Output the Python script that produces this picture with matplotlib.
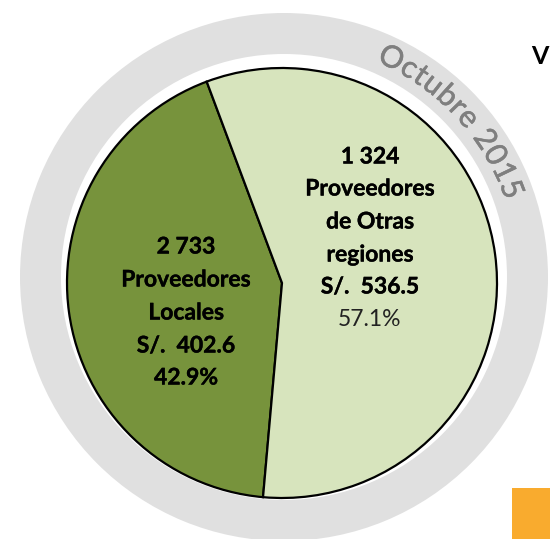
import numpy as np
import matplotlib
matplotlib.use("Agg")
import matplotlib.pyplot as plt
import matplotlib.patheffects as pe
from matplotlib.patches import Wedge, Rectangle

# === DATOS ===
categorias = ["Proveedores\nLocales", "Proveedores\nde Otras\nregiones"]
proveedores = ["2 733", "1 324"]
montos = [402.6, 536.5]
participacion = [42.9, 57.1]
periodo = "Octubre 2015"

# === COLORES ===
COL_LOCAL = "#77933C"
COL_OTRAS = "#D7E4BD"
COL_ANILLO = "#E0E0E0"
COL_PERIODO = "#7F7F7F"
FUENTE = "Lato"

W, H = 550, 539
fig = plt.figure(figsize=(W / 100, H / 100), dpi=100)
ax = fig.add_axes([0, 0, 1, 1])
ax.set_xlim(0, W)
ax.set_ylim(0, H)
ax.set_aspect("equal")
ax.axis("off")


def yy(y_img):
    return H - y_img


# anillo gris
cx_r, cy_r = 284, yy(277)
ax.add_patch(Wedge((cx_r, cy_r), 264, 0, 360, width=41, color=COL_ANILLO, lw=0))

# torta
cx, cy, rad = 282, yy(283), 215
ax.pie(participacion, colors=[COL_LOCAL, COL_OTRAS], startangle=110.5,
       counterclock=True, center=(cx, cy), radius=rad, frame=True,
       wedgeprops=dict(edgecolor="black", linewidth=1.6))
ax.set_xlim(0, W)
ax.set_ylim(0, H)
ax.axis("off")

# etiquetas
fs = 16.5
grueso = [pe.withStroke(linewidth=0.25, foreground="black")]
loc_lines = [proveedores[0]] + categorias[0].split("\n") + [f"S/.  {montos[0]}", f"{participacion[0]}%"]
loc_y = [247, 280, 313, 346, 378]
for txt, y in zip(loc_lines, loc_y):
    ax.text(186, yy(y), txt, ha="center", va="center", fontsize=fs,
            fontweight="bold", family=FUENTE, color="black", path_effects=grueso)

otr_lines = [proveedores[1]] + categorias[1].split("\n") + [f"S/.  {montos[1]}"]
otr_y = [157, 189, 222, 255, 287]
for txt, y in zip(otr_lines, otr_y):
    ax.text(370, yy(y), txt, ha="center", va="center", fontsize=fs,
            fontweight="bold", family=FUENTE, color="black", path_effects=grueso)
ax.text(370, yy(320), f"{participacion[1]}%", ha="center", va="center",
        fontsize=fs, family=FUENTE, color="#222222")

# texto curvo sobre el anillo
fs_arc = 22
fig.canvas.draw()
rend = fig.canvas.get_renderer()


def ancho(s):
    t = ax.text(0, 0, s, fontsize=fs_arc, family=FUENTE)
    w = t.get_window_extent(renderer=rend).width
    t.remove()
    return w


base = ancho("xx")
anchos = [ancho("x" + ch + "x") - base for ch in periodo]
centros = np.cumsum(anchos) - np.array(anchos) / 2
r_mid = 245
th0, th1 = np.radians(26.1), np.radians(68.9)
natural = centros[-1] - centros[0]
extra = ((th1 - th0) * r_mid - natural) / (len(periodo) - 1)
cap = 21
r_base = r_mid - cap / 2
for i, ch in enumerate(periodo):
    s = centros[i] - centros[0] + extra * i
    th = th0 + s / r_mid
    x = cx_r + r_base * np.sin(th)
    y = cy_r + r_base * np.cos(th)
    ax.text(x, y, ch, ha="center", va="baseline", rotation=-np.degrees(th),
            rotation_mode="anchor", fontsize=fs_arc, family=FUENTE,
            color=COL_PERIODO,
            path_effects=[pe.withStroke(linewidth=0.4, foreground=COL_PERIODO)])

# restos del grafico vecino
ax.text(531, yy(57), "V", ha="left", va="center", fontsize=18,
        fontweight="bold", family=FUENTE, color="black")
ax.add_patch(Rectangle((512, 0), 40, yy(488), color="#F9AB2E", lw=0))

fig.savefig("out.png", dpi=100)
